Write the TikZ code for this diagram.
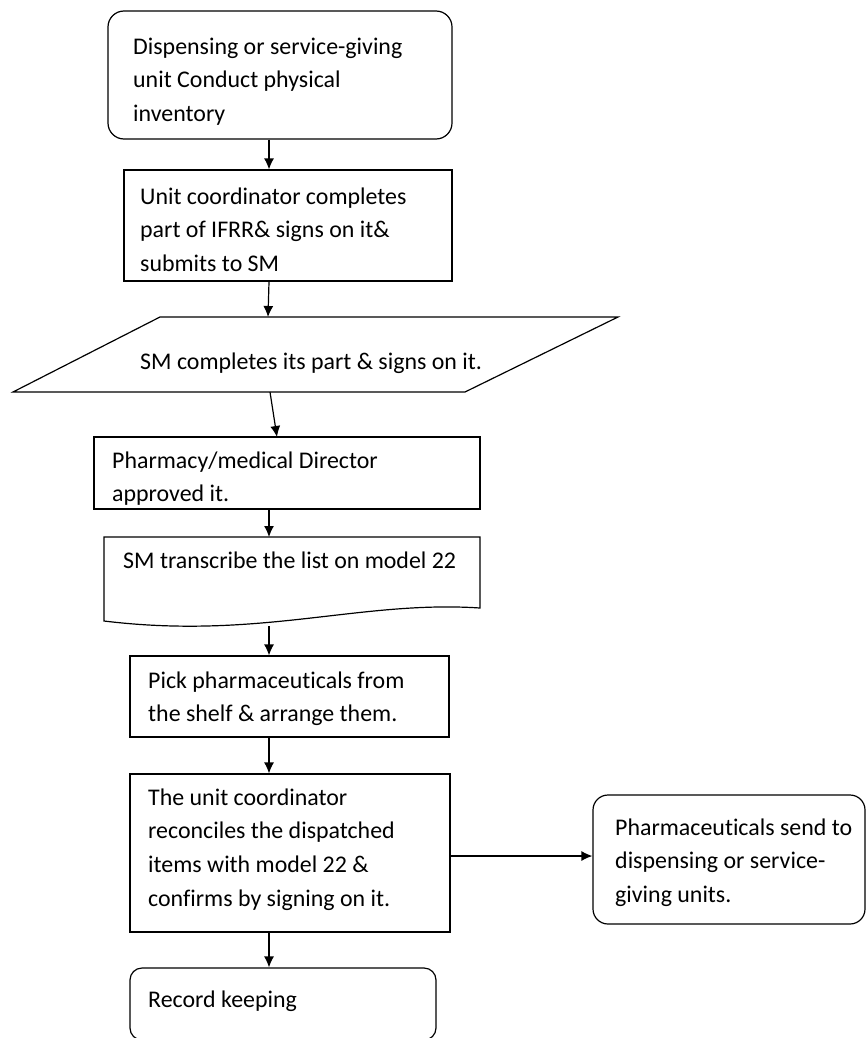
\documentclass[tikz,border=0pt]{standalone}
\usepackage{fontspec}
\setmainfont{Carlito}[Ligatures=NoCommon]
\usetikzlibrary{arrows.meta}
\newcommand{\topstrut}{\rule{0pt}{23.5pt}}
\tikzset{
  basic/.style = {draw, line width=1.2pt, rectangle, inner sep=0pt},
  rbox/.style  = {basic, rounded corners=16pt},
  sbox/.style  = {basic},
  txt/.style   = {anchor=north west, align=left, inner sep=0pt,
                  font=\fontsize{23.9}{33.6}\selectfont},
  flow/.style  = {>={Latex[length=11pt,width=10pt]}, ->, line width=1.2pt}
}

\begin{document}
\begin{tikzpicture}[x=1pt, y=-1pt]
  \useasboundingbox (0,0) rectangle (866,1038);
  \coordinate (ax) at (269,0);

  \node[rbox, minimum width=344, minimum height=128] (b1) at (280,75) {};
  \node[txt] (t1) at (133,30.5) {\topstrut Dispensing or service-giving\\unit Conduct physical\\inventory};

  \node[sbox, minimum width=328, minimum height=111] (b2) at (288,225.5) {};
  \node[txt] (t2) at (140,180.5) {\topstrut Unit coordinator completes\\part of IFRR\& signs on it\&\\submits to SM};

  \draw[line width=1.2pt] (13,392) -- (160,317) -- (618,317) -- (465,392) -- cycle;
  \coordinate (p3n) at (268,317);
  \coordinate (p3s) at (270,392);
  \node[txt] (t3) at (140,345.5) {\topstrut SM completes its part \& signs on it.};

  \node[sbox, minimum width=386, minimum height=72] (b4) at (287,473) {};
  \coordinate (b4n) at (277,437);
  \begin{scope}
    \clip (94,437) rectangle (480,504);
    \node[txt] (t4) at (112,444.5) {\topstrut Pharmacy/medical Director\\approved it.};
  \end{scope}

  \draw[line width=1.2pt] (104,621) .. controls (260,640) and (360,600) .. (480,608)
        -- (480,537) -- (104,537) -- cycle;
  \coordinate (b5n) at (269,537);
  \coordinate (b5s) at (269,626);
  \node[txt] (t5) at (123,544.5) {\topstrut SM transcribe the list on model 22};

  \node[sbox, minimum width=319, minimum height=81] (b6) at (289.5,696.5) {};
  \node[txt] (t6) at (148,664.5) {\topstrut Pick pharmaceuticals from\\the shelf \& arrange them.};

  \node[sbox, minimum width=320, minimum height=158] (b7) at (290,853) {};
  \node[txt] (t7) at (148,781.5) {\topstrut The unit coordinator\\reconciles the dispatched\\items with model 22 \&\\confirms by signing on it.};

  \node[rbox, rounded corners=15pt, minimum width=272, minimum height=129] (b8) at (729,859.5) {};
  \node[txt] (t8) at (615,811.5) {\topstrut Pharmaceuticals send to\\dispensing or service-\\giving units.};

  \node[rbox, rounded corners=12pt, minimum width=306, minimum height=72] (b9) at (283,1004) {};
  \node[txt] (t9) at (148,983.5) {\topstrut Record keeping};

  \coordinate (ay) at (0,856);
  \path[flow] (b1.south -| ax) edge (b2.north -| ax)
              (b2.south -| ax) edge (p3n)
              (p3s) edge (b4n)
              (b4.south -| ax) edge (b5n)
              (b5s) edge (b6.north -| ax)
              (b6.south -| ax) edge (b7.north -| ax)
              (b7.south -| ax) edge (b9.north -| ax)
              (b7.east |- ay) edge (b8.west |- ay);
\end{tikzpicture}
\end{document}
